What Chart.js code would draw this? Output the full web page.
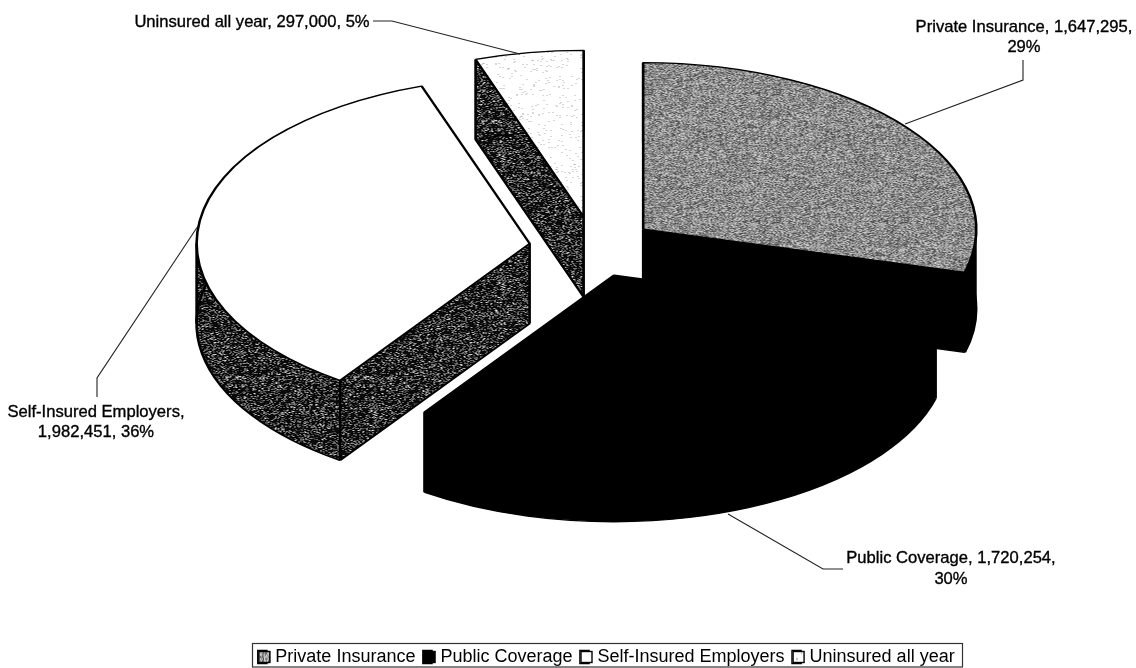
<!DOCTYPE html>
<html><head><meta charset="utf-8">
<script src="https://cdn.jsdelivr.net/npm/chart.js@4"></script>
<style>html,body{margin:0;padding:0;background:#fff}canvas{display:block}</style>
</head><body><canvas id="c" width="1136" height="668"></canvas>
<script>
const categories = ['Private Insurance','Public Coverage','Self-Insured Employers','Uninsured all year'];
const seriesValues = [1647295,1720254,1982451,297000];
const percentLabels = ['29%','30%','36%','5%'];

const SQUASH = 0.5, DEPTH = 80, RADIUS = 333, CX = 594, CY = 248;
const explode = [62,58,65,63];

function hash(x,y){
  let h=(x*374761393+y*668265263)|0;
  h=Math.imul(h^(h>>>13),1274126177);
  h^=h>>>16;
  return (h>>>0)/4294967296;
}
function makePattern(shade){
  const n=128,cv=document.createElement('canvas');cv.width=cv.height=n;
  const g=cv.getContext('2d');
  for(let y=0;y<n;y++)for(let x=0;x<n;x++){
    const v=Math.max(0,Math.min(255,Math.round(shade(x,y))));
    g.fillStyle=`rgb(${v},${v},${v})`;g.fillRect(x,y,1,1);
  }
  const p=g.createPattern(cv,'repeat');
  p.setTransform(new DOMMatrix().scale(1,1/SQUASH));
  return p;
}
const greyPat=makePattern((x,y)=>140+(hash(x,y)-0.5)*150+((x+y)&1?22:-22));
const darkPat=makePattern((x,y)=>{const h=hash(x,y);return h<0.72?10:70+(h-0.72)*600;});
const speckPat=makePattern((x,y)=>hash(x,y)<0.035?175:255);
const topFills=[greyPat,'#000','#fff',speckPat];
const sideFills=['#000','#000',darkPat,darkPat];

const leaders=[
  [[1023,60],[1023,80],[905,124]],
  [[728,514],[823,569],[843,569]],
  [[97,397],[97,378],[198,226]],
  [[373,21],[392,21],[520,54]]
];
const labelLines=[
  {x:1024,ys:[27,47],lines:[`${categories[0]}, ${seriesValues[0].toLocaleString('en-US')},`,percentLabels[0]]},
  {x:951,ys:[558,579],lines:[`${categories[1]}, ${seriesValues[1].toLocaleString('en-US')},`,percentLabels[1]]},
  {x:96,ys:[412,432],lines:[`${categories[2]},`,`${seriesValues[2].toLocaleString('en-US')}, ${percentLabels[2]}`]},
  {x:252,ys:[22],lines:[`${categories[3]}, ${seriesValues[3].toLocaleString('en-US')}, ${percentLabels[3]}`]}
];

const pie3d={
  id:'pie3d',
  beforeDatasetsDraw(chart){
    const ctx=chart.ctx,meta=chart.getDatasetMeta(0),area=chart.chartArea;
    const x0=(area.left+area.right)/2,y0=(area.top+area.bottom)/2;
    ctx.save();
    ctx.translate(CX,CY);ctx.scale(1,SQUASH);ctx.translate(-x0,-y0);
    const h=DEPTH/SQUASH;
    // explode each slice, then extrude its wall, back slices first
    meta.data.forEach((a,i)=>{
      const mid=(a.startAngle+a.endAngle)/2;
      a.x=x0+Math.cos(mid)*explode[i];
      a.y=y0+Math.sin(mid)*explode[i];
    });
    [3,2,0,1].forEach(i=>{
      const a=meta.data[i],cx=a.x,cy=a.y,r=a.outerRadius;
      ctx.fillStyle=sideFills[i];
      for(let d=h;d>=0;d-=1){
        ctx.beginPath();ctx.moveTo(cx,cy+d);ctx.arc(cx,cy+d,r,a.startAngle,a.endAngle);ctx.closePath();ctx.fill();
      }
      ctx.strokeStyle='#000';ctx.lineWidth=2.6;
      ctx.beginPath();ctx.arc(cx,cy+h,r,a.startAngle,a.endAngle);ctx.stroke();
      const startVisible=Math.cos(a.startAngle)<-1e-6, endVisible=Math.cos(a.endAngle)>1e-6;
      const pt=t=>[cx+Math.cos(t)*r,cy+Math.sin(t)*r];
      const edges=[a.startAngle,a.endAngle];
      if(a.startAngle<Math.PI&&a.endAngle>Math.PI)edges.push(Math.PI);
      ctx.beginPath();
      edges.forEach(t=>{const [px,py]=pt(t);ctx.moveTo(px,py);ctx.lineTo(px,py+h);});
      if(startVisible||endVisible){
        ctx.moveTo(cx,cy);ctx.lineTo(cx,cy+h);
        if(startVisible){const [px,py]=pt(a.startAngle);ctx.moveTo(cx,cy+h);ctx.lineTo(px,py+h);}
        if(endVisible){const [px,py]=pt(a.endAngle);ctx.moveTo(cx,cy+h);ctx.lineTo(px,py+h);}
      }
      ctx.stroke();
    });
  },
  afterDatasetsDraw(chart){
    chart.ctx.restore();
  },
  afterDraw(chart){
    const ctx=chart.ctx;
    ctx.save();
    ctx.strokeStyle='#222';ctx.lineWidth=1.1;
    leaders.forEach(l=>{ctx.beginPath();l.forEach((p,i)=>i?ctx.lineTo(p[0],p[1]):ctx.moveTo(p[0],p[1]));ctx.stroke();});
    ctx.fillStyle='#000';ctx.strokeStyle='#000';ctx.lineWidth=0.35;
    ctx.font='16.6px "Liberation Sans"';ctx.textAlign='center';ctx.textBaseline='middle';
    labelLines.forEach(l=>l.lines.forEach((t,i)=>{ctx.fillText(t,l.x,l.ys[i]);ctx.strokeText(t,l.x,l.ys[i]);}));
    const lg=chart.legend;
    if(lg&&lg.legendHitBoxes){
      lg.legendHitBoxes.forEach((b,i)=>{
        const y=b.top+b.height/2-6;
        ctx.fillStyle=lg.legendItems[i].fillStyle;ctx.fillRect(b.left,y,12,12);
        ctx.strokeStyle='#000';ctx.lineWidth=1.4;ctx.strokeRect(b.left+.5,y+.5,11,11);
      });
      ctx.strokeStyle='#333';ctx.lineWidth=1.2;
      ctx.strokeRect(252.5,643.5,710,23.5);
    }
    ctx.restore();
  }
};

new Chart(document.getElementById('c'),{
  type:'pie',
  data:{labels:categories,datasets:[{
    data:seriesValues,
    backgroundColor:topFills,
    borderColor:'#000',borderWidth:2.6,
    radius:RADIUS,
    clip:false
  }]},
  options:{
    responsive:false,animation:false,
    layout:{padding:{bottom:-8,left:77}},
    plugins:{
      tooltip:{enabled:false},
      legend:{
        position:'bottom',
        labels:{font:{family:'"Liberation Sans"',size:18},color:'#000',boxWidth:8,boxHeight:12,padding:8}
      }
    }
  },
  plugins:[pie3d]
});
</script></body></html>
